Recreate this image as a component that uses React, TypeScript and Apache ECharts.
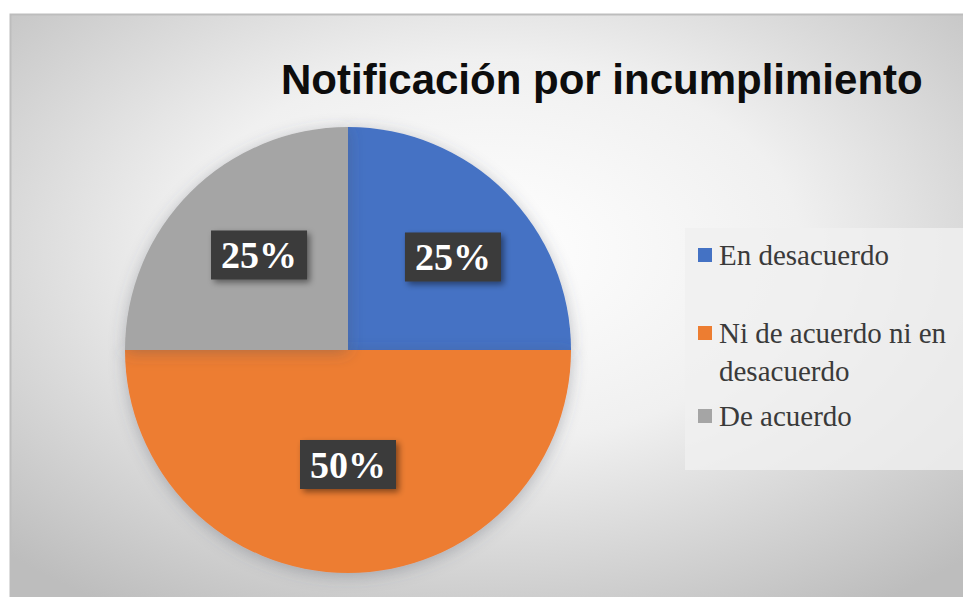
import React, { useEffect, useRef } from 'react';
import * as echarts from 'echarts';

const titleText = 'Notificación por incumplimiento';
const categories = ['En desacuerdo', 'Ni de acuerdo ni en desacuerdo', 'De acuerdo'];
const legendLabels = ['En desacuerdo', '\nNi de acuerdo ni en\ndesacuerdo', 'De acuerdo'];
const values = [25, 50, 25];
const colors = ['#4472C4', '#ED7D31', '#A5A5A5'];

export default function App() {
  const ref = useRef<HTMLDivElement>(null);
  useEffect(() => {
    document.body.style.margin = '0';
    const chart = echarts.init(ref.current!, null, { renderer: 'svg' });
    const labelOffsets = [[24, -12], [0, 0], [-8, -14]];
    const legendTops = [236, 276, 397];
    const option: any = {
      animation: false,
      backgroundColor: '#ffffff',
      graphic: [
        {
          type: 'rect',
          z: -10,
          silent: true,
          shape: { x: 10.5, y: 14.5, width: 960, height: 590 },
          style: {
            fill: {
              type: 'radial', x: 0.5, y: 0.4, r: 0.72,
              colorStops: [
                { offset: 0, color: '#ffffff' },
                { offset: 0.45, color: '#f0f0f0' },
                { offset: 1, color: '#bdbdbd' },
              ],
            },
            stroke: '#bdbdbd',
            lineWidth: 2,
          },
        },
        {
          type: 'rect',
          z: -5,
          silent: true,
          shape: { x: 685, y: 228, width: 280, height: 242 },
          style: { fill: 'rgba(240,240,240,0.8)' },
        },
      ],
      title: {
        text: titleText,
        left: 281,
        top: 58,
        padding: 0,
        textStyle: {
          fontFamily: 'Liberation Sans',
          fontWeight: 'bold',
          fontSize: 42,
          color: '#0d0d0d',
        },
      },
      legend: categories.map((name, i) => ({
        orient: 'vertical',
        left: 698,
        top: legendTops[i],
        padding: 0,
        itemWidth: 14,
        itemHeight: 14,
        icon: 'rect',
        selectedMode: false,
        data: [name],
        formatter: (n: string) => legendLabels[categories.indexOf(n)],
        textStyle: {
          fontFamily: 'Liberation Serif',
          fontSize: 29,
          color: '#3a3a3a',
          lineHeight: 38,
          padding: [0, 0, 0, 2],
        },
      })),
      series: [
        {
          type: 'pie',
          center: [348, 350],
          radius: 223,
          startAngle: 90,
          clockwise: true,
          emphasis: { disabled: true },
          labelLine: { show: false },
          itemStyle: {
            borderWidth: 0,
            shadowBlur: 16,
            shadowColor: 'rgba(70,80,95,0.35)',
            shadowOffsetY: 3,
          },
          label: {
            show: true,
            position: 'inside',
            formatter: '{d}%',
            color: '#ffffff',
            fontFamily: 'Liberation Serif',
            fontWeight: 'bold',
            fontSize: 38,
            backgroundColor: '#3a3a3a',
            padding: [6, 10, 5, 10],
            shadowColor: 'rgba(0,0,0,0.45)',
            shadowBlur: 6,
            shadowOffsetX: 3,
            shadowOffsetY: 3,
          },
          data: categories.map((name, i) => ({
            name,
            value: values[i],
            itemStyle: { color: colors[i] },
            label: { offset: labelOffsets[i] },
          })),
        },
      ],
    };
    chart.setOption(option);
    return () => chart.dispose();
  }, []);
  return (
    <div
      ref={ref}
      style={{ position: 'fixed', left: 0, top: 0, width: 963, height: 597 }}
    />
  );
}
